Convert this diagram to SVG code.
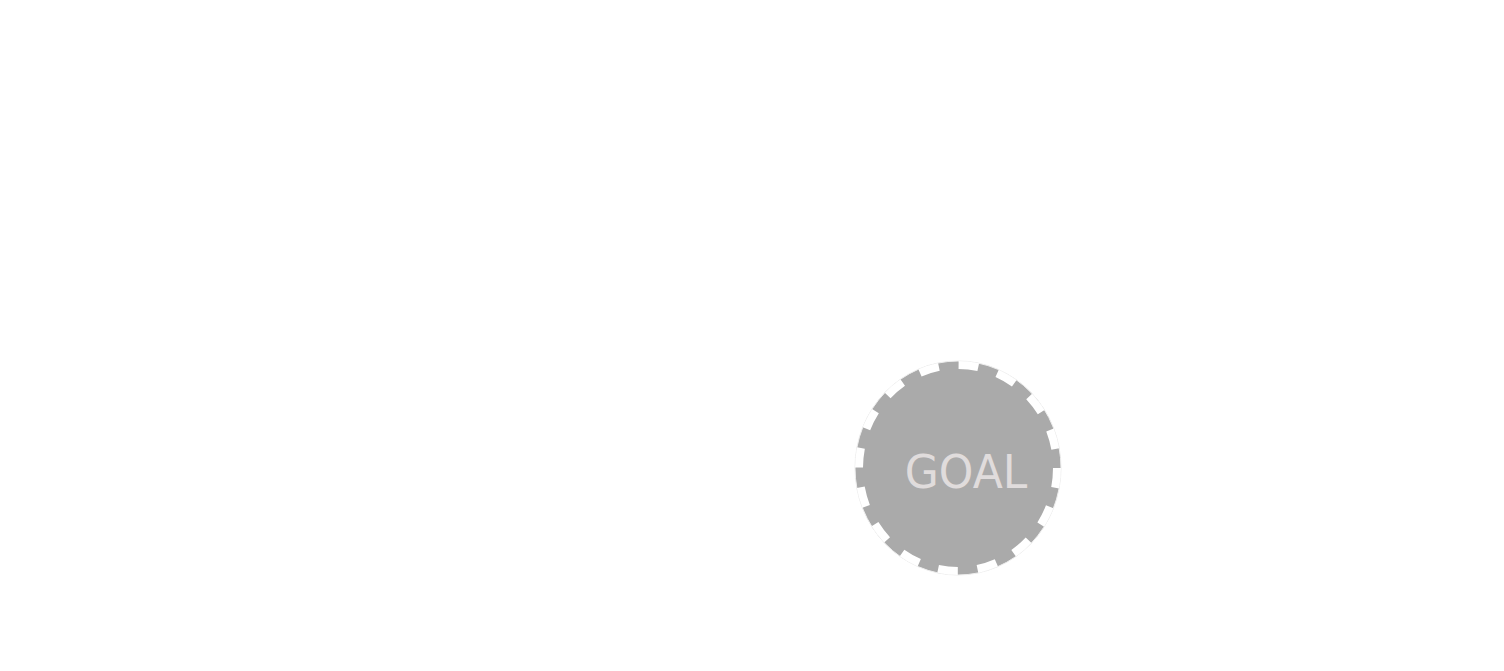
<svg xmlns="http://www.w3.org/2000/svg" width="1504" height="671" viewBox="0 0 1504 671">
<style>
.base{fill:#aaaaaa;stroke:#eeeeee;stroke-width:1}
.ring{fill:none;stroke:#ffffff;stroke-width:8;stroke-dasharray:19.83 19.83}
.lbl{font-family:"DejaVu Sans",sans-serif;font-size:44px;fill:#e0dcdc;text-anchor:middle}
</style>
<rect width="1504" height="671" fill="#ffffff"/>
<g id="connectors"></g>
<g id="goal">
<ellipse class="base" cx="958" cy="468" rx="103" ry="107"/>
<ellipse class="ring" cx="958" cy="468" rx="99" ry="103"/>
<text class="lbl" x="966" y="0" transform="translate(0 488) scale(1 1.04)">GOAL</text>
</g>
</svg>
